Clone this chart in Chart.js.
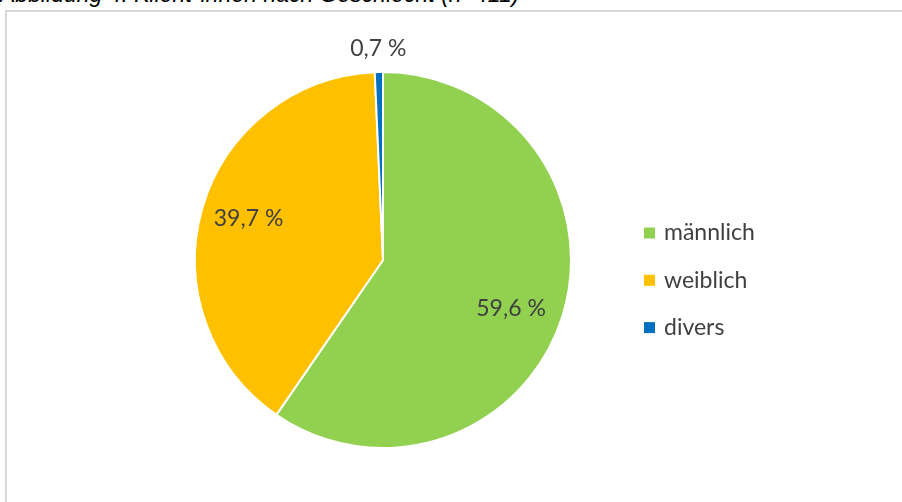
<!DOCTYPE html>
<html>
<head>
<meta charset="utf-8">
<script src="https://cdn.jsdelivr.net/npm/chart.js@4.4.1/dist/chart.umd.min.js"></script>
<style>
  html, body { margin: 0; padding: 0; background: #fff; overflow: hidden; }
  body { width: 902px; height: 502px; position: relative; }
  #caption { position: absolute; left: 0px; top: -17px; font-family: "Liberation Sans", Arial, sans-serif; font-style: italic; font-size: 23px; line-height: 23px; color: #000; white-space: nowrap; }
  #box { position: absolute; left: 5px; top: 10px; width: 920px; height: 520px; border: 2px solid #d9d9d9; box-sizing: border-box; }
  #wrap { position: absolute; left: 0; top: 0; width: 902px; height: 502px; }
</style>
</head>
<body>
<div id="caption">Abbildung 4: Klient*innen nach Geschlecht (n=411)</div>
<div id="box"></div>
<div id="wrap"><canvas id="c" width="902" height="502"></canvas></div>
<script>
const categories = ["männlich", "weiblich", "divers"];
const shares = [59.6, 39.7, 0.7];
const colors = ["#92D050", "#FFC000", "#0070C0"];

const FONT = '"Lato", "Open Sans", sans-serif';
const TEXT_COLOR = "#404040";

const labelPlugin = {
  id: "sliceLabels",
  afterDatasetsDraw(chart) {
    const ctx = chart.ctx;
    const meta = chart.getDatasetMeta(0);
    ctx.save();
    ctx.font = "23px " + FONT;
    ctx.fillStyle = TEXT_COLOR;
    ctx.textAlign = "center";
    ctx.textBaseline = "middle";
    meta.data.forEach((arc, i) => {
      const p = arc.getProps(["x", "y", "startAngle", "endAngle", "outerRadius"], true);
      const mid = (p.startAngle + p.endAngle) / 2;
      const small = shares[i] < 5;
      const r = small ? p.outerRadius + 25 : p.outerRadius * 0.74;
      const shift = small ? 0 : (i === 0 ? 0.1 : -0.02);
      const x = p.x + Math.cos(mid + shift) * r;
      const y = p.y + Math.sin(mid + shift) * r + (small ? 2 : -6);
      ctx.fillText(shares[i].toFixed(1).replace(".", ",") + " %", x, y);
    });
    ctx.restore();
  }
};

const legendPlugin = {
  id: "customLegend",
  afterDraw(chart) {
    const ctx = chart.ctx;
    ctx.save();
    ctx.font = "23px " + FONT;
    ctx.textBaseline = "middle";
    ctx.textAlign = "left";
    const x0 = 644, y0 = 233, step = 47.3, sq = 11;
    categories.forEach((c, i) => {
      const y = y0 + i * step;
      ctx.fillStyle = colors[i];
      ctx.fillRect(x0, y - sq / 2, sq, sq);
      ctx.fillStyle = TEXT_COLOR;
      ctx.fillText(c, x0 + 20, y);
    });
    ctx.restore();
  }
};

new Chart(document.getElementById("c"), {
  type: "pie",
  data: {
    labels: categories,
    datasets: [{
      data: shares,
      backgroundColor: colors,
      borderColor: "#ffffff",
      borderWidth: 2
    }]
  },
  options: {
    responsive: false,
    animation: false,
    layout: { padding: { left: 194, right: 330, top: 71, bottom: 53 } },
    plugins: {
      legend: { display: false },
      tooltip: { enabled: false }
    }
  },
  plugins: [labelPlugin, legendPlugin]
});
</script>
</body>
</html>
